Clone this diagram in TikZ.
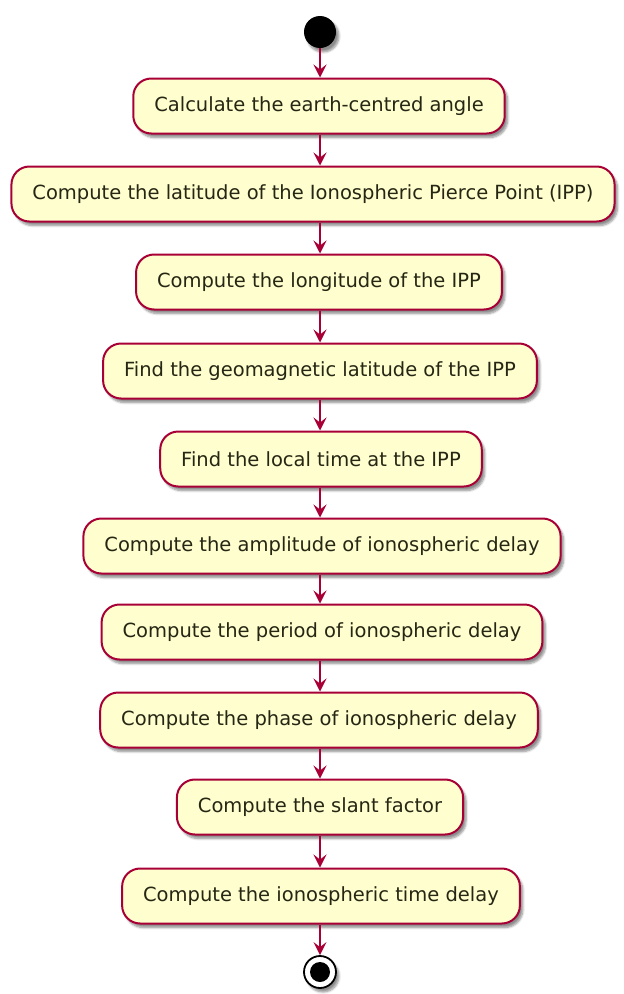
\documentclass[tikz,border=0pt]{standalone}
\usepackage{fontspec}
\setmainfont{DejaVu Sans}
\usetikzlibrary{arrows.meta,shadows.blur}
\definecolor{umlfill}{HTML}{FEFECE}
\definecolor{umlline}{HTML}{A80036}
\definecolor{umltext}{HTML}{262614}
\tikzset{
  actbox/.style={draw=umlline, fill=umlfill, line width=2bp,
    rounded corners=18bp, minimum height=55bp, inner xsep=21bp,
    font=\fontsize{19.5bp}{22bp}\selectfont, text=umltext,
    blur shadow={shadow xshift=3bp, shadow yshift=-4bp, shadow blur steps=6, shadow opacity=45}},
  flow/.style={draw=umlline, line width=1.6bp,
    -{Stealth[length=13bp, width=13bp, inset=5bp]}},
  startdot/.style={circle, fill=black, minimum size=32bp, inner sep=0pt,
    blur shadow={shadow xshift=3bp, shadow yshift=-4bp, shadow blur steps=6, shadow opacity=45}},
}
\begin{document}
\begin{tikzpicture}[x=1bp, y=-1bp]
\useasboundingbox (0,0) rectangle (624,994);
\node[startdot] (start) at (320,32) {};
\node[actbox] (a1) at (319,106) {Calculate the earth-centred angle};
\node[actbox] (a2) at (313,194) {Compute the latitude of the Ionospheric Pierce Point (IPP)};
\node[actbox] (a3) at (319,282) {Compute the longitude of the IPP};
\node[actbox] (a4) at (320,371) {Find the geomagnetic latitude of the IPP};
\node[actbox] (a5) at (321,459) {Find the local time at the IPP};
\node[actbox] (a6) at (322,546) {Compute the amplitude of ionospheric delay};
\node[actbox] (a7) at (322,632) {Compute the period of ionospheric delay};
\node[actbox] (a8) at (319,720) {Compute the phase of ionospheric delay};
\node[actbox] (a9) at (320,807) {Compute the slant factor};
\node[actbox] (a10) at (321,896) {Compute the ionospheric time delay};
% end marker: ring around a filled dot
\node[circle, draw=black, line width=1.8bp, fill=white, minimum size=32bp, inner sep=0pt,
  blur shadow={shadow xshift=3bp, shadow yshift=-4bp, shadow blur steps=6, shadow opacity=45}] (stop) at (320,972) {};
\fill[black] (stop.center) circle (10bp);
\draw[flow] (start) -- (start |- a1.north);
\foreach \i/\j in {a1/a2,a2/a3,a3/a4,a4/a5,a5/a6,a6/a7,a7/a8,a8/a9,a9/a10}
  \draw[flow] (320,0 |- \i.south) -- (320,0 |- \j.north);
\draw[flow] (320,0 |- a10.south) -- (stop);
\end{tikzpicture}
\end{document}
